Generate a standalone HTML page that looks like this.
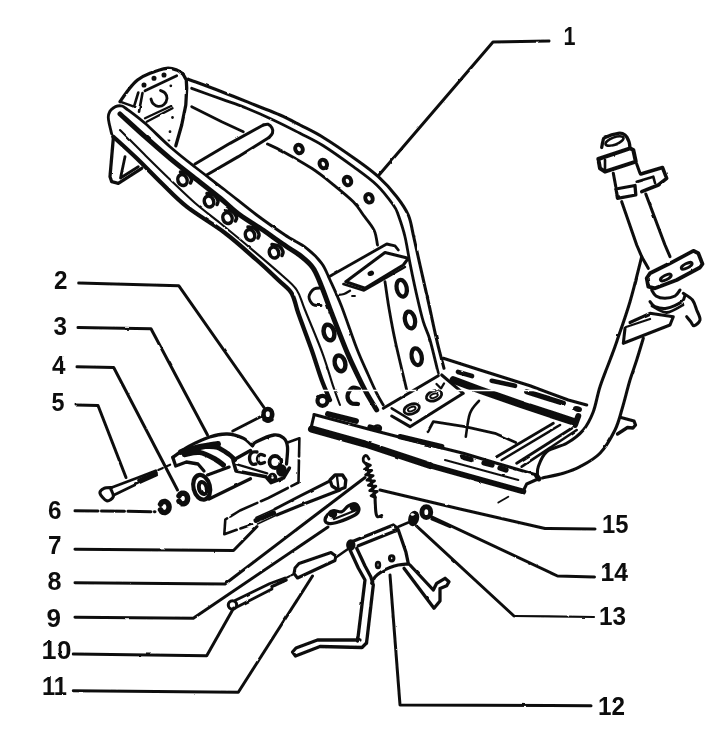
<!DOCTYPE html>
<html><head><meta charset="utf-8"><title>Frame diagram</title>
<style>
html,body{margin:0;padding:0;background:#fff;}
body{width:720px;height:752px;overflow:hidden;}
svg{display:block;}
text{font-family:"Liberation Sans",sans-serif;font-weight:bold;font-size:26px;fill:#111;}
</style></head><body>
<svg width="720" height="752" viewBox="0 0 720 752" stroke-linecap="round" stroke-linejoin="round">
<defs><filter id="soft" x="0" y="0" width="720" height="752" filterUnits="userSpaceOnUse"><feTurbulence type="fractalNoise" baseFrequency="0.09" numOctaves="2" seed="7" result="n"/><feDisplacementMap in="SourceGraphic" in2="n" scale="1.8" xChannelSelector="R" yChannelSelector="G" result="d"/><feGaussianBlur in="d" stdDeviation="0.45"/></filter></defs>
<rect width="720" height="752" fill="#fff"/>
<g filter="url(#soft)">
<!-- labels -->
<text x="563.5" y="45" textLength="12" lengthAdjust="spacingAndGlyphs">1</text>
<text x="54" y="289" textLength="13.5" lengthAdjust="spacingAndGlyphs">2</text>
<text x="53.5" y="335" textLength="13.5" lengthAdjust="spacingAndGlyphs">3</text>
<text x="52" y="374" textLength="13.5" lengthAdjust="spacingAndGlyphs">4</text>
<text x="51.5" y="411" textLength="13" lengthAdjust="spacingAndGlyphs">5</text>
<text x="48" y="518.5" textLength="13.5" lengthAdjust="spacingAndGlyphs">6</text>
<text x="48" y="554" textLength="13.5" lengthAdjust="spacingAndGlyphs">7</text>
<text x="47.5" y="589.5" textLength="14" lengthAdjust="spacingAndGlyphs">8</text>
<text x="46.5" y="626.7" textLength="14.5" lengthAdjust="spacingAndGlyphs">9</text>
<text x="41.5" y="658.5" textLength="30" lengthAdjust="spacingAndGlyphs">10</text>
<text x="42" y="695" textLength="25" lengthAdjust="spacingAndGlyphs">11</text>
<text x="598" y="715" textLength="27" lengthAdjust="spacingAndGlyphs">12</text>
<text x="599" y="625" textLength="27" lengthAdjust="spacingAndGlyphs">13</text>
<text x="600.5" y="580.5" textLength="27.5" lengthAdjust="spacingAndGlyphs">14</text>
<text x="602" y="533" textLength="26.5" lengthAdjust="spacingAndGlyphs">15</text>
<!-- leaders -->
<path d="M549.0,41.0 L493.0,42.0 L379.0,175.0" stroke="#111" stroke-width="3.01" fill="none"/>
<path d="M78.7,283.0 L178.7,285.7 L264.0,407.5" stroke="#111" stroke-width="3.01" fill="none"/>
<path d="M78.0,327.5 L151.0,328.7 L207.5,435.0" stroke="#111" stroke-width="3.01" fill="none"/>
<path d="M77.0,366.7 L113.7,367.5 L177.5,490.0" stroke="#111" stroke-width="3.01" fill="none"/>
<path d="M76.0,405.0 L98.0,405.5 L126.0,477.5" stroke="#111" stroke-width="3.01" fill="none"/>
<path d="M75.0,510.7 L155.0,511.7" stroke="#111" stroke-width="3.01" fill="none" stroke-dasharray="23 3.5"/>
<path d="M75.0,549.3 L233.5,550.5 L257.0,526.5" stroke="#111" stroke-width="3.01" fill="none"/>
<path d="M75.0,582.7 L225.0,584.0 L365.0,477.5" stroke="#111" stroke-width="3.01" fill="none"/>
<path d="M75.0,617.3 L193.3,618.3 L328.0,527.0" stroke="#111" stroke-width="3.01" fill="none"/>
<path d="M73.3,654.0 L206.7,655.7 L233.7,608.0" stroke="#111" stroke-width="3.01" fill="none"/>
<path d="M73.3,690.7 L238.3,692.3 L312.5,576.0" stroke="#111" stroke-width="3.01" fill="none"/>
<path d="M591.0,705.7 L400.0,705.0 L390.0,575.0" stroke="#111" stroke-width="3.01" fill="none"/>
<path d="M594.0,617.0 L514.0,616.0" stroke="#111" stroke-width="2.24" fill="none"/>
<path d="M514.0,616.0 L416.5,526.0" stroke="#111" stroke-width="3.01" fill="none"/>
<path d="M594.5,577.0 L557.5,576.0 L430.0,516.0" stroke="#111" stroke-width="3.01" fill="none"/>
<path d="M595.0,529.0 L545.0,528.5 L460.0,509.0 L380.0,490.0" stroke="#111" stroke-width="3.01" fill="none"/>
<!-- near rail -->
<path d="M111.7,134.0 C111.3,132.3 109.9,126.8 109.3,124.0 C108.7,121.2 108.2,119.1 108.3,117.0 C108.4,114.9 109.0,113.0 109.8,111.5 C110.6,110.0 112.0,108.9 113.3,108.0 C114.6,107.1 116.1,106.3 117.5,106.0 C118.9,105.7 120.3,105.6 121.7,106.0 C123.1,106.4 122.1,105.6 126.0,108.5 C129.9,111.4 137.7,116.9 145.0,123.3 C152.3,129.7 161.7,139.4 170.0,146.7 C178.3,154.0 185.8,159.8 195.0,167.0 C204.2,174.2 214.7,182.0 225.0,190.0 C235.3,198.0 246.7,207.5 256.7,215.0 C266.7,222.5 276.7,229.4 285.0,235.0 C293.3,240.6 300.6,243.6 306.7,248.3 C312.8,253.0 317.8,258.0 321.7,263.3 C325.6,268.6 326.7,272.8 330.0,280.0 C333.3,287.2 337.2,295.3 341.7,306.7 C346.1,318.1 352.3,336.9 356.7,348.3 C361.1,359.7 365.0,367.5 368.3,375.0 C371.6,382.5 374.2,388.3 376.7,393.3 C379.2,398.3 382.2,403.1 383.3,405.0" stroke="#111" stroke-width="2.83" fill="none"/>
<path d="M120.0,114.0 C124.2,117.8 136.7,129.3 145.0,136.7 C153.3,144.1 162.0,151.6 170.0,158.3 C178.0,165.0 184.7,170.1 193.0,176.7 C201.3,183.3 212.2,191.6 220.0,198.0 C227.8,204.4 232.8,209.7 240.0,215.0 C247.2,220.3 256.1,225.3 263.0,230.0 C269.9,234.7 275.2,238.9 281.7,243.3 C288.1,247.8 296.4,252.5 301.7,256.7 C307.0,260.9 310.0,263.3 313.3,268.3 C316.6,273.3 318.6,279.2 321.7,286.7 C324.8,294.2 327.4,302.2 331.7,313.3 C336.0,324.4 343.1,342.7 347.5,353.3 C351.9,363.9 355.1,370.0 358.3,376.7 C361.5,383.4 363.6,387.8 366.7,393.3 C369.8,398.9 375.0,407.2 376.7,410.0" stroke="#111" stroke-width="4.96" fill="none"/>
<path d="M120.0,130.0 C124.2,134.2 136.7,146.8 145.0,155.0 C153.3,163.2 161.7,171.5 170.0,179.5 C178.3,187.5 186.7,195.8 195.0,203.0 C203.3,210.2 211.4,216.0 220.0,223.0 C228.6,230.0 236.4,236.3 246.7,245.0 C257.0,253.7 273.4,267.5 281.7,275.0 C290.0,282.5 292.8,284.2 296.7,290.0 C300.6,295.8 300.7,299.4 305.0,310.0 C309.3,320.6 317.8,340.5 322.5,353.3 C327.2,366.1 330.4,378.1 333.3,386.7 C336.2,395.3 338.9,401.9 340.0,405.0" stroke="#111" stroke-width="2.12" fill="none"/>
<path d="M113.3,136.7 C117.2,140.3 128.6,150.5 136.7,158.3 C144.8,166.1 153.4,175.2 161.7,183.3 C170.0,191.4 176.1,198.4 186.7,206.7 C197.2,215.0 213.3,224.1 225.0,233.0 C236.7,241.9 247.8,252.2 256.7,260.0 C265.6,267.8 272.5,274.4 278.3,280.0 C284.1,285.6 288.4,287.8 291.7,293.3 C295.0,298.9 295.0,303.9 298.3,313.3 C301.6,322.8 307.8,338.9 311.7,350.0 C315.6,361.1 318.6,371.7 321.7,380.0 C324.8,388.3 328.6,396.7 330.0,400.0" stroke="#111" stroke-width="4.25" fill="none"/>
<ellipse cx="182.5" cy="180" rx="4.6" ry="5.6" stroke="#111" stroke-width="3.54" fill="none" transform="rotate(-20 182.5 180)"/>
<path d="M180.5,172.0 C181.7,172.2 185.7,172.3 187.5,173.5 C189.3,174.7 191.0,177.4 191.5,179.0 C192.0,180.6 190.7,182.3 190.5,183.0" stroke="#111" stroke-width="3.54" fill="none"/>
<ellipse cx="209" cy="201.5" rx="4.6" ry="5.6" stroke="#111" stroke-width="3.54" fill="none" transform="rotate(-20 209 201.5)"/>
<path d="M207.0,193.5 C208.2,193.8 212.2,193.8 214.0,195.0 C215.8,196.2 217.5,198.9 218.0,200.5 C218.5,202.1 217.2,203.8 217.0,204.5" stroke="#111" stroke-width="3.54" fill="none"/>
<ellipse cx="227.5" cy="218" rx="4.6" ry="5.6" stroke="#111" stroke-width="3.54" fill="none" transform="rotate(-20 227.5 218)"/>
<path d="M225.5,210.0 C226.7,210.2 230.7,210.3 232.5,211.5 C234.3,212.7 236.0,215.4 236.5,217.0 C237.0,218.6 235.7,220.3 235.5,221.0" stroke="#111" stroke-width="3.54" fill="none"/>
<ellipse cx="250" cy="235" rx="4.6" ry="5.6" stroke="#111" stroke-width="3.54" fill="none" transform="rotate(-20 250 235)"/>
<path d="M248.0,227.0 C249.2,227.2 253.2,227.3 255.0,228.5 C256.8,229.7 258.5,232.4 259.0,234.0 C259.5,235.6 258.2,237.3 258.0,238.0" stroke="#111" stroke-width="3.54" fill="none"/>
<ellipse cx="274" cy="252.5" rx="4.6" ry="5.6" stroke="#111" stroke-width="3.54" fill="none" transform="rotate(-20 274 252.5)"/>
<path d="M272.0,244.5 C273.2,244.8 277.2,244.8 279.0,246.0 C280.8,247.2 282.5,249.9 283.0,251.5 C283.5,253.1 282.2,254.8 282.0,255.5" stroke="#111" stroke-width="3.54" fill="none"/>
<path d="M322.0,288.0 C320.7,288.2 316.2,287.6 314.0,289.0 C311.8,290.4 309.2,294.1 309.0,296.7 C308.8,299.3 311.0,303.0 313.0,304.5 C315.0,306.0 319.7,305.3 321.0,305.5" stroke="#111" stroke-width="2.83" fill="none"/>
<ellipse cx="329" cy="332.5" rx="5.2" ry="8" stroke="#111" stroke-width="4.48" fill="none" transform="rotate(-15 329 332.5)"/>
<ellipse cx="340" cy="363.3" rx="5.2" ry="8" stroke="#111" stroke-width="4.48" fill="none" transform="rotate(-15 340 363.3)"/>
<path d="M359.0,389.0 C357.8,388.8 353.9,386.9 352.0,388.0 C350.1,389.1 347.7,393.3 347.5,395.8 C347.3,398.3 349.2,401.6 351.0,403.0 C352.8,404.4 356.8,403.8 358.0,404.0" stroke="#111" stroke-width="4.25" fill="none"/>
<!-- far rail -->
<path d="M188.3,79.2 C193.9,81.3 210.6,87.4 221.7,91.7 C232.8,96.0 245.3,101.1 255.0,105.0 C264.7,108.9 272.5,111.7 280.0,115.0 C287.5,118.3 292.8,121.2 300.0,125.0 C307.2,128.8 313.9,131.7 323.3,137.5 C332.8,143.3 347.5,153.5 356.7,160.0 C365.9,166.5 371.6,170.6 378.3,176.7 C385.0,182.8 391.7,190.3 396.7,196.7 C401.7,203.1 405.5,208.6 408.3,215.0 C411.1,221.4 411.4,226.7 413.3,235.0 C415.2,243.3 417.5,253.9 420.0,265.0 C422.5,276.1 425.5,289.2 428.3,301.7 C431.1,314.2 434.1,328.9 436.7,340.0 C439.3,351.1 442.8,363.6 444.0,368.3" stroke="#111" stroke-width="3.07" fill="none"/>
<path d="M191.7,88.3 C196.7,90.1 212.5,95.9 221.7,99.2 C230.9,102.5 238.1,104.8 246.7,108.3 C255.3,111.8 264.4,115.8 273.3,120.0 C282.2,124.2 291.7,129.0 300.0,133.3 C308.3,137.6 314.4,140.2 323.3,145.8 C332.2,151.4 344.4,160.2 353.3,166.7 C362.2,173.2 370.0,178.6 376.7,185.0 C383.4,191.4 389.7,200.0 393.3,205.0 C396.9,210.0 396.4,209.7 398.3,215.0 C400.2,220.3 403.1,228.6 405.0,236.7 C406.9,244.8 408.1,253.6 410.0,263.3 C411.9,273.0 414.5,285.3 416.7,295.0 C418.9,304.7 421.1,314.2 423.3,321.7 C425.5,329.2 427.5,331.4 430.0,340.0 C432.5,348.6 436.9,367.8 438.3,373.3" stroke="#111" stroke-width="2.83" fill="none"/>
<path d="M267.5,144.0 C270.1,145.3 275.9,147.6 283.3,151.7 C290.7,155.8 303.6,163.0 311.7,168.3 C319.8,173.6 324.8,177.7 331.7,183.3 C338.6,188.9 348.0,196.4 353.3,201.7 C358.6,207.0 359.9,210.3 363.3,215.0 C366.8,219.7 371.6,225.0 374.0,230.0 C376.4,235.0 376.9,242.5 377.5,245.0" stroke="#111" stroke-width="2.83" fill="none"/>
<path d="M385.0,281.7 C385.7,286.1 387.3,298.6 389.0,308.3 C390.7,318.0 392.1,326.4 395.0,340.0 C397.9,353.6 404.8,381.7 406.7,390.0" stroke="#111" stroke-width="2.83" fill="none"/>
<path d="M191.7,106.7 L221.7,121.7 L243.3,131.7" stroke="#111" stroke-width="2.83" fill="none"/>
<ellipse cx="299" cy="149" rx="3.6" ry="4.4" stroke="#111" stroke-width="4.01" fill="none" transform="rotate(-25 299 149)"/>
<ellipse cx="323.3" cy="164" rx="3.6" ry="4.4" stroke="#111" stroke-width="4.01" fill="none" transform="rotate(-25 323.3 164)"/>
<ellipse cx="347.5" cy="181" rx="3.6" ry="4.4" stroke="#111" stroke-width="4.01" fill="none" transform="rotate(-25 347.5 181)"/>
<ellipse cx="369" cy="198.3" rx="3.6" ry="4.4" stroke="#111" stroke-width="4.01" fill="none" transform="rotate(-25 369 198.3)"/>
<ellipse cx="401.7" cy="288.3" rx="5" ry="8.5" stroke="#111" stroke-width="4.25" fill="none" transform="rotate(-12 401.7 288.3)"/>
<ellipse cx="410" cy="320" rx="5" ry="8.5" stroke="#111" stroke-width="4.25" fill="none" transform="rotate(-12 410 320)"/>
<ellipse cx="416.7" cy="356.7" rx="5" ry="8.5" stroke="#111" stroke-width="4.25" fill="none" transform="rotate(-12 416.7 356.7)"/>
<!-- cross tube -->
<path d="M195.0,164.0 L230.0,143.3 L263.3,125.0" stroke="#111" stroke-width="3.07" fill="none"/>
<path d="M263.3,125.0 C264.1,124.9 266.6,123.8 268.0,124.3 C269.4,124.8 271.2,126.5 272.0,128.0 C272.8,129.4 273.0,131.4 272.5,133.0 C272.0,134.6 269.6,136.8 269.0,137.5" stroke="#111" stroke-width="3.07" fill="none"/>
<path d="M269.0,137.5 L238.3,156.7 L206.7,175.0" stroke="#111" stroke-width="3.07" fill="none"/>
<!-- rear bracket -->
<path d="M120.0,101.7 C121.4,99.8 125.4,93.6 128.3,90.0 C131.2,86.4 133.9,82.8 137.5,80.0 C141.1,77.2 145.1,75.2 150.0,73.3 C154.9,71.3 162.2,68.8 166.7,68.3 C171.1,67.8 174.0,69.0 176.7,70.0 C179.4,71.0 181.9,73.3 183.0,74.0" stroke="#111" stroke-width="3.30" fill="none"/>
<path d="M183.0,74.0 L186.3,80.0 L186.7,88.0 L185.8,105.0 L181.7,125.0 L175.8,145.8" stroke="#111" stroke-width="3.30" fill="none"/>
<path d="M145.0,90.8 L176.7,75.8" stroke="#111" stroke-width="2.83" fill="none"/>
<path d="M138.3,92.5 L134.0,106.7" stroke="#111" stroke-width="2.60" fill="none"/>
<path d="M142.5,93.0 L139.0,111.7" stroke="#111" stroke-width="2.60" fill="none"/>
<path d="M120.0,101.7 L134.0,106.7" stroke="#111" stroke-width="2.36" fill="none"/>
<path d="M160.5,90.5 C161.2,90.9 163.9,91.7 165.0,93.0 C166.1,94.3 167.2,96.4 167.0,98.3 C166.8,100.2 165.5,103.2 164.0,104.5 C162.5,105.8 159.8,106.5 158.0,106.3 C156.2,106.1 154.2,104.7 153.0,103.5 C151.8,102.3 151.3,99.8 151.0,99.0" stroke="#111" stroke-width="2.83" fill="none"/>
<path d="M145.0,118.3 L171.7,105.8" stroke="#111" stroke-width="2.36" fill="none"/>
<path d="M146.7,121.7 L172.5,108.3" stroke="#111" stroke-width="2.36" fill="none"/>
<ellipse cx="144" cy="85" rx="1.6" ry="1.6" stroke="#111" stroke-width="1.89" fill="#111"/>
<ellipse cx="154" cy="78.3" rx="1.6" ry="1.6" stroke="#111" stroke-width="1.89" fill="#111"/>
<ellipse cx="164" cy="75" rx="1.6" ry="1.6" stroke="#111" stroke-width="1.89" fill="#111"/>
<ellipse cx="170.8" cy="85.8" rx="0.8" ry="0.8" stroke="#111" stroke-width="1.18" fill="#111"/>
<ellipse cx="172.5" cy="117.5" rx="0.8" ry="0.8" stroke="#111" stroke-width="1.18" fill="#111"/>
<ellipse cx="170" cy="131.7" rx="0.8" ry="0.8" stroke="#111" stroke-width="1.18" fill="#111"/>
<ellipse cx="169" cy="140" rx="0.8" ry="0.8" stroke="#111" stroke-width="1.18" fill="#111"/>
<!-- left foot -->
<path d="M113.3,138.3 L110.0,176.7 L111.7,181.7 L118.3,183.3 L141.7,168.3" stroke="#111" stroke-width="3.30" fill="none"/>
<path d="M125.0,156.7 L120.5,178.0 L138.3,166.7" stroke="#111" stroke-width="2.83" fill="none"/>
<!-- seat plate -->
<path d="M329.0,276.7 L386.7,244.0 L395.0,245.8 L398.3,250.0" stroke="#111" stroke-width="2.83" fill="none"/>
<path d="M345.8,281.7 L385.0,252.5 L408.3,258.3 L403.3,265.0 L365.0,288.3Z" stroke="#111" stroke-width="3.07" fill="none"/>
<path d="M343.3,284.0 L364.0,290.5 L405.0,267.0" stroke="#111" stroke-width="2.36" fill="none"/>
<ellipse cx="370.8" cy="273.3" rx="2.4" ry="1.6" stroke="#111" stroke-width="1.89" fill="#111" transform="rotate(-20 370.8 273.3)"/>
<path d="M336.7,295.0 C337.9,294.8 341.8,294.7 344.0,294.0 C346.2,293.3 349.0,291.3 350.0,290.8" stroke="#111" stroke-width="2.36" fill="none"/>
<path d="M352.0,296.0 L355.0,296.0" stroke="#111" stroke-width="1.89" fill="none"/>
<!-- floor -->
<path d="M314.0,414.5 L372.0,430.0 L430.0,445.0" stroke="#111" stroke-width="3.07" fill="none"/>
<path d="M430.0,445.0 L463.3,453.3 L496.7,463.3 L536.7,475.0 L539.0,478.5 L526.7,484.0 L523.0,491.5" stroke="#111" stroke-width="3.07" fill="none"/>
<path d="M314.0,415.5 L311.0,428.0" stroke="#111" stroke-width="3.07" fill="none"/>
<path d="M311.5,429.0 L365.0,444.0 L430.0,465.5" stroke="#111" stroke-width="7.08" fill="none"/>
<path d="M430.0,465.5 L480.0,479.5 L523.3,491.5" stroke="#111" stroke-width="5.90" fill="none"/>
<path d="M445.0,460.0 L518.3,480.0" stroke="#111" stroke-width="2.12" fill="none"/>
<path d="M536.5,475.5 L539.0,479.0" stroke="#111" stroke-width="4.96" fill="none"/>
<path d="M328.0,414.0 L356.0,421.0" stroke="#111" stroke-width="5.90" fill="none"/>
<path d="M370.0,427.0 L379.0,429.5" stroke="#111" stroke-width="5.31" fill="none"/>
<path d="M400.0,436.7 L441.7,446.7" stroke="#111" stroke-width="5.31" fill="none"/>
<path d="M462.0,457.0 L471.0,459.5" stroke="#111" stroke-width="5.31" fill="none"/>
<path d="M484.0,463.0 L492.0,465.0" stroke="#111" stroke-width="5.31" fill="none"/>
<path d="M500.0,468.0 L506.0,470.0" stroke="#111" stroke-width="5.31" fill="none"/>
<ellipse cx="377.5" cy="428" rx="3.5" ry="2.5" stroke="#111" stroke-width="2.36" fill="none"/>
<path d="M498.3,502.5 L508.3,496.7" stroke="#111" stroke-width="1.89" fill="none"/>
<path d="M443.3,358.3 L480.0,370.0 L530.0,385.8 L568.3,400.0 L586.7,405.0" stroke="#111" stroke-width="3.07" fill="none"/>
<path d="M453.3,380.0 L480.0,390.0 L520.0,404.0 L573.3,421.7" stroke="#111" stroke-width="7.67" fill="none"/>
<path d="M578.3,416.0 L575.0,425.0" stroke="#111" stroke-width="5.90" fill="none"/>
<path d="M458.0,372.0 L472.0,376.0" stroke="#111" stroke-width="4.72" fill="none"/>
<path d="M461.0,383.0 L470.0,386.0" stroke="#111" stroke-width="4.13" fill="none"/>
<path d="M491.7,380.8 L515.0,385.8" stroke="#111" stroke-width="4.72" fill="none"/>
<path d="M526.7,391.7 L563.3,403.3" stroke="#111" stroke-width="5.31" fill="none"/>
<ellipse cx="577.5" cy="409" rx="3.4" ry="1.6" stroke="#111" stroke-width="2.36" fill="#111" transform="rotate(15 577.5 409)"/>
<path d="M383.3,408.3 L438.3,375.8" stroke="#111" stroke-width="3.07" fill="none"/>
<path d="M441.7,375.0 L463.3,393.3 L410.0,426.7 L391.7,416.0" stroke="#111" stroke-width="3.07" fill="none"/>
<path d="M391.7,408.3 L410.8,420.0" stroke="#111" stroke-width="2.60" fill="none"/>
<ellipse cx="411.7" cy="409" rx="8" ry="4.8" stroke="#111" stroke-width="2.83" fill="none" transform="rotate(-20 411.7 409)"/>
<ellipse cx="411.7" cy="409" rx="4" ry="2" stroke="#111" stroke-width="1.89" fill="none" transform="rotate(-20 411.7 409)"/>
<ellipse cx="434" cy="395.8" rx="8" ry="4.8" stroke="#111" stroke-width="2.83" fill="none" transform="rotate(-20 434 395.8)"/>
<ellipse cx="434" cy="395.8" rx="4" ry="2" stroke="#111" stroke-width="1.89" fill="none" transform="rotate(-20 434 395.8)"/>
<path d="M436.5,384.0 L441.0,388.5 L444.0,383.5" stroke="#111" stroke-width="2.36" fill="none"/>
<path d="M553.3,423.3 L496.7,456.7" stroke="#111" stroke-width="2.83" fill="none"/>
<path d="M560.0,425.0 L501.7,460.0" stroke="#111" stroke-width="2.60" fill="none"/>
<path d="M571.7,428.3 L516.7,463.3" stroke="#111" stroke-width="2.83" fill="none"/>
<path d="M576.7,430.0 L521.7,466.7" stroke="#111" stroke-width="2.60" fill="none"/>
<path d="M428.0,431.7 L433.3,421.7 L465.0,426.7 L495.0,433.3 L515.8,442.5" stroke="#111" stroke-width="2.83" fill="none"/>
<path d="M479.0,400.8 C477.5,402.9 472.2,407.3 470.0,413.3 C467.8,419.3 466.5,432.8 465.8,436.7" stroke="#111" stroke-width="2.60" fill="none"/>
<ellipse cx="322.5" cy="400.8" rx="5" ry="5" stroke="#111" stroke-width="4.25" fill="none"/>
<path d="M322.0,390.5 L537.0,390.5" stroke="#fff" stroke-width="1.30" fill="none"/>
<!-- steering column -->
<path d="M601.7,147.5 C601.9,146.4 602.5,142.7 603.0,141.0 C603.5,139.3 602.5,138.8 605.0,137.5 C607.5,136.2 615.0,133.7 618.3,133.3 C621.6,132.9 623.2,133.6 625.0,135.0 C626.8,136.4 628.2,139.5 629.0,141.7 C629.8,143.9 629.8,147.2 630.0,148.3" stroke="#111" stroke-width="3.30" fill="none"/>
<ellipse cx="614.5" cy="141" rx="9.5" ry="3.6" stroke="#111" stroke-width="2.60" fill="none" transform="rotate(-20 614.5 141)"/>
<path d="M598.3,159.0 L630.0,148.3 L633.3,150.0 L635.8,161.7 L605.0,171.7 L600.0,168.3Z" stroke="#111" stroke-width="4.01" fill="none"/>
<path d="M605.0,160.0 L605.0,169.0" stroke="#111" stroke-width="2.60" fill="none"/>
<path d="M613.3,173.3 L615.8,186.7" stroke="#111" stroke-width="3.07" fill="none"/>
<path d="M636.7,164.0 L640.0,173.3" stroke="#111" stroke-width="3.07" fill="none"/>
<path d="M615.8,189.0 L635.0,185.5 L635.8,195.0 L617.5,198.3Z" stroke="#111" stroke-width="3.30" fill="none"/>
<path d="M640.8,174.0 L662.5,167.5 L666.7,178.3 L658.3,185.0 L641.7,191.7" stroke="#111" stroke-width="3.54" fill="none"/>
<path d="M636.7,181.7 L653.3,176.7 L655.0,183.0" stroke="#111" stroke-width="2.60" fill="none"/>
<path d="M621.7,201.7 L636.7,245.0 L641.7,256.7 L648.3,268.3" stroke="#111" stroke-width="3.07" fill="none"/>
<path d="M645.8,194.0 L665.0,245.0 L670.0,256.7" stroke="#111" stroke-width="3.07" fill="none"/>
<path d="M646.7,278.3 L650.0,273.3 L670.0,263.3 L693.3,250.8 L698.3,253.3 L702.5,264.0 L700.0,267.5 L676.7,280.0 L655.0,288.3 L648.3,286.7Z" stroke="#111" stroke-width="3.78" fill="none"/>
<ellipse cx="665.8" cy="277.5" rx="6" ry="2.2" stroke="#111" stroke-width="2.83" fill="none" transform="rotate(-27 665.8 277.5)"/>
<ellipse cx="686.7" cy="265.8" rx="6" ry="2.2" stroke="#111" stroke-width="2.83" fill="none" transform="rotate(-27 686.7 265.8)"/>
<path d="M651.7,290.0 C652.4,291.0 653.8,294.6 656.0,296.0 C658.2,297.4 661.8,298.3 665.0,298.3 C668.2,298.3 672.5,297.4 675.0,296.0 C677.5,294.6 679.2,291.0 680.0,290.0" stroke="#111" stroke-width="3.07" fill="none"/>
<path d="M650.0,301.7 C650.8,302.5 652.2,305.6 655.0,306.7 C657.8,307.8 662.2,309.1 666.7,308.3 C671.2,307.5 678.7,303.9 681.7,301.7 C684.8,299.5 684.5,296.1 685.0,295.0" stroke="#111" stroke-width="3.07" fill="none"/>
<path d="M652.0,306.0 C654.5,307.1 661.5,312.7 666.7,312.5 C671.9,312.3 680.3,306.2 683.0,305.0" stroke="#111" stroke-width="2.83" fill="none"/>
<path d="M683.3,293.3 C684.8,294.4 690.3,297.2 692.5,300.0 C694.7,302.8 695.5,306.7 696.7,310.0 C698.0,313.3 700.5,317.4 700.0,320.0 C699.5,322.6 695.5,325.5 694.0,325.8 C692.5,326.1 692.0,323.2 690.8,321.7 C689.6,320.2 687.4,317.5 686.7,316.7" stroke="#111" stroke-width="3.07" fill="none"/>
<path d="M630.0,322.5 L650.0,313.3 L673.3,316.7 L670.0,325.0 L623.3,343.3 L625.0,328.3" stroke="#111" stroke-width="3.07" fill="none"/>
<path d="M626.0,327.0 L650.0,319.0" stroke="#111" stroke-width="2.36" fill="none"/>
<path d="M641.7,256.7 C639.8,264.2 634.2,287.5 630.0,301.7 C625.8,315.9 620.0,332.0 616.7,341.7 C613.4,351.4 612.8,352.5 610.0,360.0 C607.2,367.5 602.8,378.1 600.0,386.7 C597.2,395.3 596.1,404.5 593.3,411.7 C590.5,418.9 587.7,424.7 583.3,430.0 C578.9,435.3 572.8,439.7 566.7,443.3 C560.6,446.9 551.4,447.8 546.7,451.7 C542.0,455.6 539.8,462.6 538.3,466.7 C536.8,470.8 537.6,474.4 537.5,476.0" stroke="#111" stroke-width="3.07" fill="none"/>
<path d="M643.3,338.3 C642.2,341.9 638.9,353.1 636.7,360.0 C634.5,366.9 632.4,372.1 630.0,380.0 C627.6,387.9 625.0,399.2 622.5,407.5 C620.0,415.8 618.8,422.4 615.0,430.0 C611.2,437.6 605.8,447.2 600.0,453.3 C594.2,459.4 586.1,463.4 580.0,466.7 C573.9,470.0 569.5,471.4 563.3,473.3 C557.0,475.2 546.0,477.2 542.5,478.0" stroke="#111" stroke-width="3.07" fill="none"/>
<path d="M621.0,417.5 L634.0,421.0 L635.5,425.0 L633.0,428.0 L627.5,427.5 L617.5,434.0" stroke="#111" stroke-width="3.30" fill="none"/>
<!-- bolt 5 -->
<path d="M111.7,487.5 C110.4,487.6 106.0,487.3 104.0,488.3 C102.0,489.3 99.5,491.2 100.0,493.3 C100.5,495.4 104.5,500.2 106.7,500.8 C108.9,501.4 112.6,498.7 113.3,496.7 C114.0,494.7 111.2,490.3 110.8,489.0" stroke="#111" stroke-width="3.07" fill="none"/>
<path d="M111.7,487.5 L138.3,477.5 L155.8,470.8" stroke="#111" stroke-width="2.83" fill="none"/>
<path d="M114.0,495.0 L138.3,483.3 L156.7,475.0" stroke="#111" stroke-width="2.83" fill="none"/>
<path d="M139.0,480.5 L156.0,473.0" stroke="#111" stroke-width="3.78" fill="none" stroke-dasharray="1.2 1.8"/>
<path d="M158.3,470.0 L171.7,464.0" stroke="#111" stroke-width="2.12" fill="none" stroke-dasharray="5 3"/>
<!-- washers -->
<path d="M160.5,504.2 L161.6,502.6 L163.1,501.6 L164.8,501.4 L166.5,502.0 L167.9,503.2 L168.8,505.0 L169.1,507.0 L168.8,509.0 L167.9,510.8 L166.5,512.0 L164.8,512.6 L163.1,512.4 L161.6,511.4 L160.5,509.8" stroke="#111" stroke-width="5.43" fill="none"/>
<path d="M179.0,495.8 L180.1,494.3 L181.6,493.3 L183.3,493.1 L185.0,493.6 L186.4,494.8 L187.3,496.5 L187.6,498.5 L187.3,500.5 L186.4,502.2 L185.0,503.4 L183.3,503.9 L181.6,503.7 L180.1,502.7 L179.0,501.2" stroke="#111" stroke-width="5.43" fill="none"/>
<!-- nut 2 -->
<ellipse cx="267.8" cy="414.2" rx="4.4" ry="5.2" stroke="#111" stroke-width="4.72" fill="none"/>
<path d="M264.0,419.5 C264.7,419.8 266.7,421.3 268.0,421.3 C269.3,421.3 271.3,419.8 272.0,419.5" stroke="#111" stroke-width="3.54" fill="none"/>
<path d="M262.0,416.0 L232.8,431.0" stroke="#111" stroke-width="3.07" fill="none"/>
<!-- swing arm 3 -->
<path d="M172.8,457.4 C175.4,455.6 182.2,450.1 188.3,446.7 C194.5,443.3 203.2,439.1 209.7,437.0 C216.2,434.9 221.7,433.8 227.2,434.0 C232.7,434.2 238.6,436.1 242.8,438.0 C247.0,439.9 250.9,444.4 252.5,445.7" stroke="#111" stroke-width="3.30" fill="none"/>
<path d="M172.8,457.4 L175.7,466.0 L186.4,462.0 L198.0,464.0 L204.0,471.0" stroke="#111" stroke-width="3.30" fill="none"/>
<path d="M181.0,452.0 C184.2,451.2 193.8,448.3 200.0,447.0 C206.2,445.7 215.0,444.5 218.0,444.0" stroke="#111" stroke-width="5.90" fill="none"/>
<path d="M184.4,454.5 C187.0,454.2 194.8,451.7 200.0,452.5 C205.2,453.3 211.6,457.2 215.5,459.3 C219.4,461.4 222.0,464.1 223.3,465.0" stroke="#111" stroke-width="5.31" fill="none"/>
<path d="M206.0,446.7 C207.9,446.9 213.7,446.3 217.5,447.6 C221.3,448.9 226.2,452.5 229.0,454.4 C231.8,456.3 233.2,458.2 234.0,459.0" stroke="#111" stroke-width="4.72" fill="none"/>
<path d="M252.5,445.7 C253.2,445.1 252.8,443.6 256.4,441.8 C260.0,440.0 269.4,435.6 273.9,435.0 C278.4,434.4 281.3,436.1 283.6,438.0 C285.9,439.9 287.0,442.4 287.5,446.7 C288.0,451.0 286.7,461.1 286.5,464.0" stroke="#111" stroke-width="3.30" fill="none"/>
<path d="M250.5,450.5 L233.0,460.3 L236.0,471.0 L266.0,476.8 L271.0,482.6 L283.6,477.8 L289.4,468.0" stroke="#111" stroke-width="3.54" fill="none"/>
<path d="M257.0,452.0 C256.2,452.1 253.2,451.5 252.0,452.5 C250.8,453.5 249.5,456.1 249.5,458.0 C249.5,459.9 250.9,463.0 252.0,464.0 C253.1,465.0 255.3,464.0 256.0,464.0" stroke="#111" stroke-width="3.30" fill="none"/>
<path d="M264.5,455.5 C263.8,455.3 261.2,453.9 260.0,454.5 C258.8,455.1 257.5,457.5 257.5,459.0 C257.5,460.5 258.8,462.9 260.0,463.5 C261.2,464.1 263.8,462.7 264.5,462.5" stroke="#111" stroke-width="3.30" fill="none"/>
<ellipse cx="275" cy="462" rx="5.5" ry="6" stroke="#111" stroke-width="3.78" fill="none"/>
<ellipse cx="281.5" cy="470.5" rx="3.6" ry="4.6" stroke="#111" stroke-width="3.54" fill="#111"/>
<ellipse cx="272.5" cy="477.5" rx="3" ry="3" stroke="#111" stroke-width="3.54" fill="none"/>
<path d="M237.0,464.4 L267.2,473.3" stroke="#111" stroke-width="2.36" fill="none"/>
<ellipse cx="201.7" cy="487.3" rx="8.2" ry="12.6" stroke="#111" stroke-width="4.25" fill="none" transform="rotate(-14 201.7 487.3)"/>
<ellipse cx="202.8" cy="488" rx="3.8" ry="6.2" stroke="#111" stroke-width="4.01" fill="none" transform="rotate(-14 202.8 488)"/>
<path d="M207.5,475.0 L229.2,467.0" stroke="#111" stroke-width="3.07" fill="none"/>
<path d="M209.0,499.0 L250.5,478.7" stroke="#111" stroke-width="3.30" fill="none"/>
<path d="M288.3,442.3 L299.4,438.3 L298.5,482.5 L268.3,498.0 L240.0,510.5 L225.3,519.5 L224.3,534.2 L252.0,524.4" stroke="#111" stroke-width="2.60" fill="none" stroke-dasharray="30 4"/>
<!-- bolt 7 -->
<path d="M330.0,480.0 L335.0,475.0 L342.5,475.0 L345.8,480.0 L345.0,487.5 L338.3,490.0 L332.0,486.0Z" stroke="#111" stroke-width="3.30" fill="none"/>
<path d="M337.0,476.5 L338.5,489.0" stroke="#111" stroke-width="2.36" fill="none"/>
<path d="M330.0,480.8 L300.0,496.0 L275.0,509.0" stroke="#111" stroke-width="3.07" fill="none"/>
<path d="M340.0,490.0 L305.0,503.5 L276.7,515.0" stroke="#111" stroke-width="3.07" fill="none"/>
<path d="M256.0,520.5 L275.0,512.3" stroke="#111" stroke-width="4.96" fill="none" stroke-dasharray="1.2 1.8"/>
<path d="M256.0,517.5 L275.0,509.0" stroke="#111" stroke-width="1.65" fill="none"/>
<path d="M257.5,524.0 L276.7,515.0" stroke="#111" stroke-width="1.65" fill="none"/>
<!-- spring 8 -->
<path d="M369.0,459.0 C368.6,458.5 367.5,456.2 366.7,455.8 C365.9,455.4 364.6,455.9 364.0,456.7 C363.4,457.5 363.0,459.6 363.3,460.8 C363.6,462.0 365.6,463.5 366.0,464.0" stroke="#111" stroke-width="2.83" fill="none"/>
<path d="M366.3,463.5 L370.5,465.2 L364.2,469.6 L371.8,470.4 L365.6,474.9 L373.2,475.7 L366.9,480.1 L374.6,480.9 L368.3,485.3 L375.9,486.1 L369.7,490.6 L377.3,491.4 L371.0,495.8 L375.2,497.5" stroke="#111" stroke-width="2.71" fill="none"/>
<path d="M366.3,463.5 L375.2,497.5" stroke="#111" stroke-width="2.60" fill="none"/>
<path d="M375.0,496.7 C375.1,499.2 375.4,508.4 375.8,511.7 C376.2,515.0 376.5,516.1 377.5,516.7 C378.5,517.3 381.0,515.7 381.7,515.5" stroke="#111" stroke-width="3.07" fill="none"/>
<!-- clip 9 -->
<path d="M325.0,520.0 C324.9,518.6 326.1,516.5 327.5,515.0 C328.9,513.5 330.9,511.4 333.3,510.8 C335.7,510.2 339.2,512.5 341.7,511.7 C344.2,510.9 346.1,507.1 348.3,505.8 C350.5,504.5 353.2,503.5 355.0,504.0 C356.8,504.5 359.0,507.2 359.0,509.0 C359.0,510.8 358.7,512.8 355.0,515.0 C351.3,517.2 341.1,521.1 336.7,522.5 C332.2,523.9 330.2,523.7 328.3,523.3 C326.4,522.9 325.1,521.4 325.0,520.0Z" stroke="#111" stroke-width="3.30" fill="none"/>
<ellipse cx="332.5" cy="514" rx="2.6" ry="2.4" stroke="#111" stroke-width="4.25" fill="#111"/>
<ellipse cx="354.5" cy="507" rx="2.8" ry="2.6" stroke="#111" stroke-width="4.25" fill="#111"/>
<path d="M334.0,519.0 L354.0,511.0" stroke="#111" stroke-width="2.36" fill="none"/>
<!-- pin 10 -->
<ellipse cx="232.5" cy="605" rx="4.2" ry="4.2" stroke="#111" stroke-width="3.07" fill="none"/>
<path d="M235.0,600.5 L270.0,583.5 L285.0,578.0" stroke="#111" stroke-width="2.83" fill="none"/>
<path d="M237.0,607.0 L272.0,589.0" stroke="#111" stroke-width="2.83" fill="none"/>
<path d="M272.0,586.5 L286.0,580.0" stroke="#111" stroke-width="3.54" fill="none" stroke-dasharray="1.2 1.8"/>
<path d="M287.0,577.5 L295.0,573.5" stroke="#111" stroke-width="2.12" fill="none" stroke-dasharray="3 2"/>
<!-- sleeve 11 -->
<path d="M295.0,568.0 L299.0,563.5 L331.0,552.5 L335.8,556.0 L335.0,560.5 L297.5,578.0 L294.0,573.5Z" stroke="#111" stroke-width="3.07" fill="none"/>
<path d="M335.8,557.5 L348.0,549.0" stroke="#111" stroke-width="2.60" fill="none"/>
<!-- stand 12 -->
<path d="M350.0,542.5 L393.3,525.0 L397.5,528.3 L395.8,530.8" stroke="#111" stroke-width="3.30" fill="none"/>
<path d="M358.3,545.8 L395.8,530.8" stroke="#111" stroke-width="3.30" fill="none"/>
<ellipse cx="350.8" cy="545" rx="2.8" ry="3.8" stroke="#111" stroke-width="3.78" fill="#111"/>
<path d="M398.3,530.0 L405.8,551.7 L408.3,563.5" stroke="#111" stroke-width="3.30" fill="none"/>
<path d="M371.7,583.3 C372.2,582.2 373.3,578.9 375.0,577.0 C376.7,575.1 379.2,573.3 381.7,571.7 C384.2,570.1 387.2,568.6 390.0,567.5 C392.8,566.4 395.2,565.6 398.3,565.0 C401.4,564.4 406.6,564.2 408.3,564.0" stroke="#111" stroke-width="3.30" fill="none"/>
<ellipse cx="378" cy="565" rx="1.8" ry="2.8" stroke="#111" stroke-width="2.83" fill="none"/>
<ellipse cx="391.7" cy="558.3" rx="2.2" ry="2.6" stroke="#111" stroke-width="3.07" fill="none"/>
<path d="M350.0,550.0 L358.3,568.0 L365.0,580.0 L358.3,635.0 L357.5,641.0" stroke="#111" stroke-width="3.30" fill="none"/>
<path d="M356.7,548.3 L365.0,566.0 L370.8,576.7 L373.3,585.0 L367.5,635.0 L366.5,643.0" stroke="#111" stroke-width="3.30" fill="none"/>
<path d="M360.0,640.0 L317.5,640.0 L296.0,648.0 L292.5,652.0 L295.5,656.0 L320.0,646.5 L362.0,647.5 L366.5,643.0" stroke="#111" stroke-width="3.30" fill="none"/>
<path d="M404.0,568.3 L434.0,608.3 L440.0,601.0 L440.0,588.5 L446.7,585.8 L449.0,581.7 L445.0,578.3 L436.7,583.3 L433.3,590.0 L410.0,565.0" stroke="#111" stroke-width="3.30" fill="none"/>
<!-- washers 13 14 -->
<ellipse cx="413.7" cy="518.5" rx="3.0" ry="5.4" stroke="#111" stroke-width="4.72" fill="#111" transform="rotate(15 413.7 518.5)"/>
<ellipse cx="412.5" cy="514.5" rx="1.6" ry="0.9" stroke="#fff" stroke-width="0.71" fill="#fff"/>
<ellipse cx="426.3" cy="512.2" rx="4.4" ry="5.4" stroke="#111" stroke-width="4.96" fill="none"/>
<path d="M431.7,519.0 L450.0,526.7" stroke="#111" stroke-width="2.83" fill="none"/>
<path d="M398.3,526.7 L408.3,522.5" stroke="#111" stroke-width="2.60" fill="none"/>
</g>
</svg>
</body></html>
